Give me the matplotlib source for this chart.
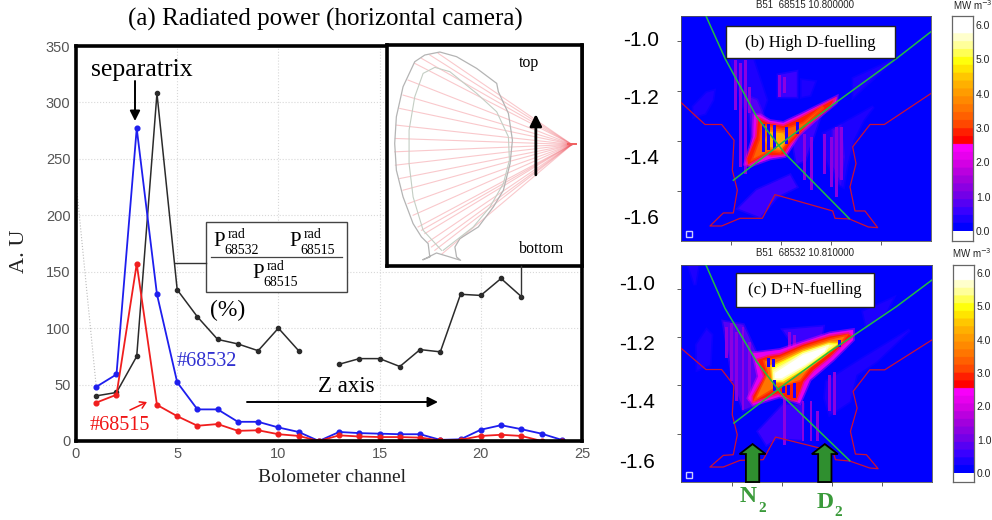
import matplotlib
matplotlib.use('Agg')
import matplotlib.pyplot as plt
from matplotlib.colors import LinearSegmentedColormap
from matplotlib.patches import Polygon, Rectangle

SERIF = 'Liberation Serif'
SANS = 'Liberation Sans'

# Panel (a): radiated power per bolometer channel
CHANNELS = list(range(1, 25))
BLUE_68532 = [48, 59, 277, 130, 52, 28, 28, 17, 17, 12, 8, 0, 8, 7, 6.5, 6, 6, 1, 1.5, 10, 14, 10.5, 6.5, 1]
RED_68515 = [34, 41, 157, 32, 22, 13.5, 15, 9, 9.5, 6, 4.5, 0, 5, 4, 3.5, 3.5, 3, 0.5, 1, 4.5, 5.5, 4.5, 0, 0]
RATIO_CH_A = [1, 2, 3, 4, 5, 6, 7, 8, 9, 10, 11]
RATIO_A = [40, 43, 75, 308, 134, 110, 90, 86, 80, 100, 80]
RATIO_CH_B = [13, 14, 15, 16, 17, 18, 19, 20, 21, 22]
RATIO_B = [68, 73, 73, 66, 81, 79, 130, 129, 144, 128]
X_TICKS = [0, 5, 10, 15, 20, 25]
Y_TICKS = [0, 50, 100, 150, 200, 250, 300, 350]

# Inset: vessel cross-section and lines of sight
WALL_X = [130, 150, 145, 125, 100, 70, 50, 45, 50, 70, 105, 135, 180, 230, 290, 350, 355, 385, 397, 390, 370, 340, 295, 240, 225, 230, 242, 210, 170, 130]
WALL_Y = [688, 680, 640, 620, 580, 500, 420, 340, 260, 170, 95, 75, 66, 80, 115, 160, 185, 250, 330, 400, 480, 530, 590, 625, 650, 680, 690, 680, 668, 688]
INNER_X = [185, 130, 100, 88, 88, 105, 130, 165, 210, 290, 350, 385, 388, 370, 330, 280, 190]
INNER_Y = [660, 600, 500, 400, 300, 200, 130, 112, 125, 190, 245, 320, 390, 460, 530, 590, 660]
FAN_X = [125, 150, 175, 105, 85, 70, 60, 50, 47, 45, 47, 60, 70, 85, 100, 115, 125, 135, 145, 155, 165, 185]
FAN_Y = [85, 75, 70, 100, 150, 195, 235, 285, 325, 365, 405, 445, 480, 520, 555, 590, 600, 610, 635, 650, 660, 672]

# Panels (b), (c): colour scale
CBAR_STOPS = [0, 0.5, 1, 1.5, 2, 2.5, 2.51, 2.75, 3, 3.5, 4, 4.5, 5, 5.5, 6]
CBAR_COLORS = ['#0000ff', '#3c00ff', '#7800e6', '#a800dc', '#dc00e6', '#ff00ff', '#ff0000', '#ff0000',
               '#ff3c00', '#ff6e00', '#ff9600', '#ffc000', '#ffff00', '#ffff96', '#ffffff']
CBAR_TICKS = [0, 1, 2, 3, 4, 5, 6]

# Panel (b)
B_GREEN1_X = [288, 345, 440, 525, 718]
B_GREEN1_Y = [48, 175, 350, 460, 655]
B_GREEN2_X = [370, 520, 660, 860, 963]
B_GREEN2_Y = [540, 425, 320, 175, 95]
B_WALL_X = [213, 285, 335, 372, 367, 382, 370, 340, 300, 335, 390, 457, 495, 668, 675, 718, 775, 803, 765, 735, 720, 738, 728, 780, 823, 963]
B_WALL_Y = [307, 373, 373, 420, 510, 570, 638, 638, 677, 677, 654, 654, 583, 632, 654, 656, 680, 682, 632, 632, 560, 490, 440, 373, 373, 280]
B_HEAT = [
    (0.35, [250, 290, 312, 308, 285, 252], [320, 278, 272, 300, 340, 350]),
    (0.4, [360, 430, 470, 450, 400], [180, 180, 300, 360, 320]),
    (0.5, [505, 560, 560, 505], [225, 215, 290, 290]),
    (0.4, [575, 615, 600, 575], [240, 245, 285, 290]),
    (0.4, [730, 850, 790, 730], [235, 180, 235, 290]),
    (0.4, [640, 700, 790, 760, 730, 710, 700, 680, 650], [400, 370, 320, 360, 420, 500, 560, 550, 480]),
    (0.7, [670, 690, 700, 690, 670], [390, 380, 470, 540, 500]),
    (0.5, [385, 440, 540, 560, 500, 450], [625, 570, 525, 560, 590, 650]),
    (0.8, [415, 440, 465, 450, 430], [290, 300, 360, 440, 470]),
    (0.5, [540, 590, 630, 585, 560], [370, 350, 350, 480, 490]),
    (2.2, [432, 450, 480, 520, 575, 680, 678, 615, 565, 525, 480, 420, 405, 430],
     [345, 345, 362, 368, 342, 290, 308, 360, 405, 468, 475, 497, 492, 410]),
    (2.8, [445, 475, 520, 570, 660, 670, 660, 590, 540, 520, 485, 470, 415, 412, 440],
     [355, 370, 378, 355, 305, 300, 320, 375, 430, 462, 465, 460, 492, 475, 410]),
    (3.4, [455, 520, 580, 640, 580, 530, 510, 480, 430, 450], [375, 390, 370, 320, 375, 425, 455, 450, 475, 420]),
    (4.2, [480, 520, 530, 510, 480, 470], [395, 400, 420, 445, 440, 420]),
]
B_DARK_X = [456, 472, 489, 524, 559]
B_DARK_TOP = [372, 372, 376, 380, 365]
B_DARK_BOT = [455, 450, 445, 430, 400]
B_PURPLE_X = [372, 388, 402, 415, 505, 520, 580, 600, 640, 660, 675, 690]
B_PURPLE_TOP = [180, 190, 180, 260, 225, 230, 400, 410, 400, 410, 380, 380]
B_PURPLE_BOT = [330, 500, 520, 340, 290, 280, 540, 570, 520, 560, 590, 540]

# Panel (c)
C_GREEN1_X = [288, 345, 440, 525, 720]
C_GREEN1_Y = [30, 160, 320, 430, 618]
C_GREEN2_X = [372, 520, 660, 860, 967]
C_GREEN2_Y = [505, 392, 290, 155, 75]
C_WALL_X = [213, 288, 335, 372, 367, 382, 370, 340, 300, 340, 390, 460, 497, 670, 677, 720, 780, 805, 770, 737, 722, 742, 730, 780, 825, 967]
C_WALL_Y = [280, 344, 344, 392, 480, 540, 600, 602, 637, 637, 617, 615, 547, 590, 615, 619, 640, 642, 600, 598, 530, 460, 410, 345, 345, 255]
C_HEAT = [
    (0.4, [260, 290, 305, 300, 262], [270, 225, 240, 330, 345]),
    (0.35, [235, 265, 255], [30, 30, 90]),
    (0.4, [760, 850, 830, 770], [170, 130, 170, 215]),
    (0.4, [650, 760, 900, 800, 740, 720, 660, 645], [380, 310, 225, 320, 360, 440, 480, 430]),
    (0.6, [445, 520, 580, 575, 500, 470], [530, 450, 450, 555, 550, 570]),
    (0.7, [340, 400, 450, 440, 400, 370], [200, 210, 320, 450, 465, 380]),
    (0.5, [520, 640, 630, 570], [225, 215, 280, 300]),
    (2.2, [430, 510, 660, 730, 730, 670, 600, 570, 510, 430, 415, 445],
     [295, 285, 235, 225, 255, 315, 375, 445, 425, 450, 430, 365]),
    (2.8, [445, 475, 510, 580, 660, 715, 725, 700, 660, 610, 580, 560, 545, 505, 475, 430, 430, 465],
     [315, 305, 300, 270, 245, 237, 245, 265, 305, 345, 380, 435, 435, 415, 425, 440, 425, 365]),
    (3.6, [465, 510, 580, 660, 705, 690, 600, 570, 490, 440, 475], [320, 310, 280, 255, 245, 265, 335, 375, 400, 430, 355]),
    (5.0, [485, 580, 660, 685, 650, 590, 520, 490], [335, 290, 265, 265, 295, 340, 380, 380]),
    (5.5, [490, 580, 655, 670, 640, 585, 518, 492], [345, 295, 270, 272, 292, 335, 375, 375]),
    (6.0, [495, 580, 650, 645, 585, 515, 495], [355, 300, 277, 290, 330, 370, 370]),
]
C_DARK_X = [470, 485, 490, 515, 530, 550, 685]
C_DARK_TOP = [310, 312, 375, 395, 392, 385, 255]
C_DARK_BOT = [335, 335, 410, 415, 420, 430, 275]
C_PURPLE_X = [345, 360, 375, 395, 415, 520, 535, 550, 575, 600, 620, 655, 670]
C_PURPLE_TOP = [215, 205, 230, 215, 260, 430, 230, 240, 440, 440, 470, 360, 350]
C_PURPLE_BOT = [310, 380, 440, 465, 440, 570, 290, 290, 560, 560, 560, 470, 480]

ARROW_X = [428, 645]
ARROW_TOP = 568
ARROW_BOT = 682

cmap = LinearSegmentedColormap.from_list(
    'bolo', [(v / 6, c) for v, c in zip(CBAR_STOPS, CBAR_COLORS)], N=26
)


def px_axes(fig, left, top, right, bottom):
    return fig.add_axes([left / 992, 1 - bottom / 520, (right - left) / 992, (bottom - top) / 520])


def plot_main(fig):
    ax = px_axes(fig, 76, 46, 582, 441)
    ax.grid(color='#d8d8d8', linestyle=':', linewidth=0.8)
    ax.plot([0, 1], [230, 48], color='#bbbbbb', linestyle=':', linewidth=0.8)
    ax.plot(RATIO_CH_A, RATIO_A, '-o', color='#2b2b2b', lw=1.1, ms=3)
    ax.plot(RATIO_CH_B, RATIO_B, '-o', color='#2b2b2b', lw=1.1, ms=3)
    ax.plot(CHANNELS, BLUE_68532, '-o', color='#1e1eee', lw=1.3, ms=3.4)
    ax.plot(CHANNELS, RED_68515, '-o', color='#f01e1e', lw=1.3, ms=3.4)

    ax.set_xlim(0, 25)
    ax.set_ylim(0, 350)
    ax.set_xticks(X_TICKS)
    ax.set_yticks(Y_TICKS)
    ax.tick_params(length=0, labelsize=10.5, labelcolor='#555555', pad=4)
    for label in ax.get_xticklabels() + ax.get_yticklabels():
        label.set_family(SANS)
    for spine in ax.spines.values():
        spine.set_linewidth(2.6)


def plot_inset(fig):
    ax = px_axes(fig, 387, 45, 582, 266)
    ax.set_xlim(22, 605)
    ax.set_ylim(707, 45)
    ax.set_xticks([])
    ax.set_yticks([])
    for spine in ax.spines.values():
        spine.set_linewidth(2.6)
    for x, y in zip(FAN_X, FAN_Y):
        ax.plot([x, 575], [y, 343], color='#ee5560', lw=0.8, alpha=0.32)
    ax.plot(WALL_X, WALL_Y, color='#b4b4b4', lw=0.9)
    ax.plot(INNER_X, INNER_Y, color='#c4cec4', lw=0.8)
    ax.plot([562, 588], [343, 343], color='#f06060', lw=1.4)
    ax.annotate('', xy=(467, 252), xytext=(467, 434),
                arrowprops=dict(arrowstyle='-|>,head_width=0.35,head_length=0.7', color='black', lw=2, shrinkA=0, shrinkB=0))
    ax.text(445, 98, 'top', family=SERIF, fontsize=11.5, ha='center', va='center')
    ax.text(483, 655, 'bottom', family=SERIF, fontsize=11.5, ha='center', va='center')


def plot_heat(ax, layers, dark, purple):
    # purple stripes sit under the bright layers, dark ones cut through them
    for x, t, b in zip(*purple):
        ax.add_patch(Rectangle((x, t), 8, b - t, facecolor=cmap(1.3 / 6), edgecolor='none', zorder=2.2))
    for i, (v, xs, ys) in enumerate(layers):
        colour = cmap(v / 6)
        z = (2.3 if v >= 1.5 else 2) + i * 0.01
        ax.add_patch(Polygon(list(zip(xs, ys)), closed=True, facecolor=colour, edgecolor=colour, lw=2.5, alpha=0.45, zorder=z))
        ax.add_patch(Polygon(list(zip(xs, ys)), closed=True, facecolor=colour, edgecolor='none', zorder=z))
    for x, t, b in zip(*dark):
        ax.add_patch(Rectangle((x, t), 9, b - t, facecolor=cmap(0.3 / 6), edgecolor='none', zorder=3.5))


def plot_panel(fig, box, limits, green1, green2, wall, heat, dark, purple, yticks, xticks):
    ax = px_axes(fig, *box)
    ax.set_facecolor('#0000ff')
    ax.set_xlim(limits[0], limits[1])
    ax.set_ylim(limits[2], limits[3])
    plot_heat(ax, heat, dark, purple)
    ax.plot(*wall, color='#cc1133', lw=0.9, zorder=4)
    ax.plot(*green1, color='#22bb44', lw=1.1, zorder=5)
    ax.plot(*green2, color='#22bb44', lw=1.1, zorder=5)
    ax.plot([236], [limits[2] - 22], 's', ms=4.5, mfc='none', mec='#ccccff', mew=1, zorder=5)
    ax.set_xticks(xticks)
    ax.set_yticks(yticks)
    ax.set_xticklabels([])
    ax.set_yticklabels([])
    ax.tick_params(direction='out', length=3, width=0.6, color='#444444')
    for spine in ax.spines.values():
        spine.set_linewidth(0.6)
        spine.set_color('#555555')
    return ax


def plot_cbar(fig, left, top, right, bottom, y6, y0):
    ax = px_axes(fig, left, top, right, bottom)
    per_unit = (y0 - y6) / 6
    vmax = 6 + (y6 - top) / per_unit
    vmin = -(bottom - y0) / per_unit
    ax.set_facecolor('white')
    ax.imshow([[v / 100] for v in range(600, -1, -1)], cmap=cmap, vmin=0, vmax=6, aspect='auto', extent=(0, 1, 0, 6))
    ax.set_xlim(0, 1)
    ax.set_ylim(vmin, vmax)
    ax.set_xticks([])
    ax.yaxis.tick_right()
    ax.set_yticks(CBAR_TICKS)
    ax.set_yticklabels([f'{v:.1f}' for v in CBAR_TICKS], family=SANS, fontsize=7.5, color='#222222')
    ax.tick_params(length=0, pad=2)
    for spine in ax.spines.values():
        spine.set_linewidth(0.9)
        spine.set_color('#666666')


def annotate(fig):
    ov = fig.add_axes([0, 0, 1, 1], zorder=10)
    ov.set_xlim(0, 992)
    ov.set_ylim(520, 0)
    ov.axis('off')

    def txt(x, y, s, size, family=SERIF, color='black', **kw):
        ov.text(x, y, s, family=family, fontsize=size, color=color, ha=kw.pop('ha', 'center'), va='center', **kw)

    def arrow(x0, y0, x1, y1, style='-|>,head_width=0.3,head_length=0.6', color='black', lw=1.4):
        ov.annotate('', xy=(x1, y1), xytext=(x0, y0),
                    arrowprops=dict(arrowstyle=style, color=color, lw=lw, shrinkA=0, shrinkB=0))

    txt(325, 19, '(a) Radiated power (horizontal camera)', 18)
    txt(332, 478, 'Bolometer channel', 14, color='#222222')
    txt(19, 251, 'A. U', 16, color='#222222', rotation=90)
    txt(142, 70, 'separatrix', 18.5)
    arrow(135, 81, 135, 121)
    txt(207, 362, '#68532', 14.5, color='#3030d0')
    txt(120, 425, '#68515', 14.5, color='#f01414')
    arrow(130, 410, 147, 402, style='->,head_width=0.25,head_length=0.4', color='#f01414', lw=1.1)
    txt(228, 310, '(%)', 17)
    txt(346, 387, 'Z axis', 16.5)
    arrow(247, 402, 438, 402)

    # leader lines and the ratio box
    ov.plot([175, 206], [263, 263], color='#333333', lw=1)
    ov.plot([521, 521], [266, 297], color='#333333', lw=1)
    ov.add_patch(Rectangle((206, 222), 141, 70, facecolor='white', edgecolor='#444444', lw=1))
    ov.plot([211, 342], [257, 257], color='#444444', lw=0.9)
    for px, py, sub in [(219, 242, '68532'), (295, 242, '68515'), (258, 274, '68515')]:
        txt(px, py, 'P', 15)
        txt(px + 18, py - 7, 'rad', 10)
        txt(px + 23, py + 8, sub, 10)

    # panel (b) and (c) pasted text
    for y, s in zip([40, 99, 158, 218], ['-1.0', '-1.2', '-1.4', '-1.6']):
        txt(641, y, s, 15, family=SANS)
    for y, s in zip([285, 344, 403, 462], ['-1.0', '-1.2', '-1.4', '-1.6']):
        txt(637, y, s, 15, family=SANS)
    txt(805, 5, 'B51  68515 10.800000', 7, family=SANS, color='#222222')
    txt(805, 253, 'B51  68532 10.810000', 7, family=SANS, color='#222222')
    txt(973, 5, 'MW m$^{-3}$', 7, family=SANS, color='#222222')
    txt(972, 253, 'MW m$^{-3}$', 7, family=SANS, color='#222222')

    ov.add_patch(Rectangle((726, 26), 169, 32, facecolor='white', edgecolor='#222222', lw=1))
    txt(810, 43, '(b) High D-fuelling', 12)
    ov.add_patch(Rectangle((736, 273), 138, 34, facecolor='white', edgecolor='#222222', lw=1))
    txt(805, 290, '(c) D+N-fuelling', 12)

    green = '#3a9a3a'
    txt(748, 497, 'N', 17, color=green, fontweight='bold')
    txt(762, 508, '2', 11, color=green, fontweight='bold')
    txt(825, 502, 'D', 17, color=green, fontweight='bold')
    txt(838, 512, '2', 11, color=green, fontweight='bold')


def add_fuel_arrows(ax):
    for x in ARROW_X:
        outline = [(x - 20, ARROW_BOT), (x - 20, ARROW_TOP + 30), (x - 39, ARROW_TOP + 30), (x, ARROW_TOP),
                   (x + 39, ARROW_TOP + 30), (x + 20, ARROW_TOP + 30), (x + 20, ARROW_BOT)]
        ax.add_patch(Polygon(outline, closed=True, facecolor='#2f8f2f', edgecolor='black', lw=1.3, zorder=6, clip_on=False))


def main():
    fig = plt.figure(figsize=(9.92, 5.2), dpi=100)
    plot_main(fig)
    plot_inset(fig)

    plot_panel(
        fig, (681, 16, 931, 241), (213, 963, 722, 48),
        (B_GREEN1_X, B_GREEN1_Y), (B_GREEN2_X, B_GREEN2_Y), (B_WALL_X, B_WALL_Y), B_HEAT,
        (B_DARK_X, B_DARK_TOP, B_DARK_BOT), (B_PURPLE_X, B_PURPLE_TOP, B_PURPLE_BOT),
        [124, 273, 423, 572], [363, 513, 663, 813],
    )
    ax_c = plot_panel(
        fig, (681, 265, 932, 482), (213, 967, 682, 30),
        (C_GREEN1_X, C_GREEN1_Y), (C_GREEN2_X, C_GREEN2_Y), (C_WALL_X, C_WALL_Y), C_HEAT,
        (C_DARK_X, C_DARK_TOP, C_DARK_BOT), (C_PURPLE_X, C_PURPLE_TOP, C_PURPLE_BOT),
        [103, 247, 392, 537], [365, 516, 667, 817],
    )
    add_fuel_arrows(ax_c)

    plot_cbar(fig, 952, 16, 973, 241, 25, 231)
    plot_cbar(fig, 953, 265, 974, 482, 273, 473)

    annotate(fig)
    fig.savefig('out.png', dpi=100)


if __name__ == '__main__':
    main()
